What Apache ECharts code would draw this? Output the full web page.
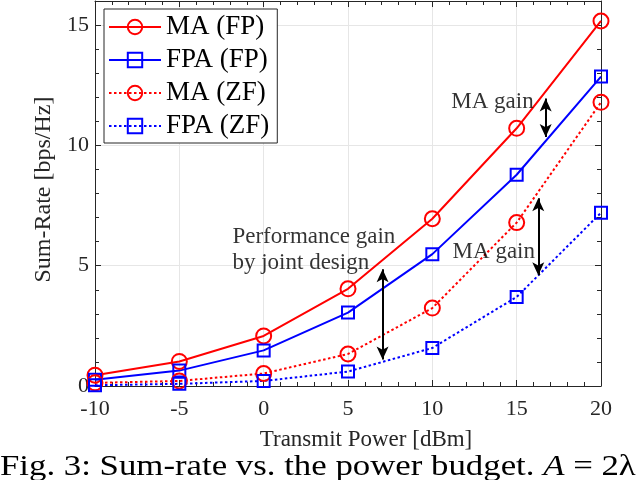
<!DOCTYPE html>
<html>
<head>
<meta charset="utf-8">
<script src="https://cdn.jsdelivr.net/npm/echarts@6/dist/echarts.min.js"></script>
<style>
  html, body { margin: 0; padding: 0; background: #fff; }
  #chart { width: 640px; height: 480px; }
</style>
</head>
<body>
<div id="chart"></div>
<script>
// transmit power [dBm]
const power = [-10, -5, 0, 5, 10, 15, 20];
// sum-rate [bps/Hz]
const maFP = [0.45, 1.02, 2.08, 4.04, 6.95, 10.71, 15.17];
const fpaFP = [0.26, 0.64, 1.48, 3.05, 5.48, 8.78, 12.86];
const maZF = [0.13, 0.21, 0.52, 1.33, 3.24, 6.79, 11.79];
const fpaZF = [0.03, 0.09, 0.21, 0.60, 1.58, 3.70, 7.20];
const yTicks = [0, 5, 10, 15];

// arrows: [x, yTop, yBottom]
const arrows = [
  [7.05, 4.85, 1.1],
  [16.72, 11.95, 10.35],
  [16.28, 7.8, 4.6]
];
// annotations: [x, y, text]
const notes = [
  [-1.85, 5.64, 'Performance gain\nby joint design'],
  [11.12, 11.8, 'MA gain'],
  [11.2, 5.57, 'MA gain']
];

const FONT = '"Liberation Serif", "Times New Roman", serif';
const RED = '#ff0000';
const BLUE = '#0000ff';
const AX = '#262626';

const chart = echarts.init(document.getElementById('chart'), null, {renderer: 'canvas'});

function lineSeries(name, data, color, symbol, size, dotted) {
  return {
    name: name,
    type: 'line',
    data: power.map((p, i) => [p, data[i]]),
    symbol: symbol,
    symbolSize: size,
    showAllSymbol: true,
    lineStyle: {color: color, width: 2, type: dotted ? [2.5, 2.5] : 'solid'},
    itemStyle: {color: 'rgba(255,255,255,0)', borderColor: color, borderWidth: 2},
    emphasis: {disabled: true},
    z: 3
  };
}

const tickCommon = {
  axisLine: {show: true, onZero: false, lineStyle: {color: AX, width: 1}},
  axisTick: {show: true, inside: true, length: 6, lineStyle: {color: AX}},
  minorTick: {show: true, splitNumber: 5, length: 4, lineStyle: {color: AX}},
};

const option = {
  backgroundColor: '#fff',
  animation: false,
  grid: {left: 95, right: 39, top: 1, bottom: 94},
  legend: {
    data: ['MA (FP)', 'FPA (FP)', 'MA (ZF)', 'FPA (ZF)'],
    orient: 'vertical',
    left: 104,
    top: 9,
    itemWidth: 52,
    itemHeight: 18,
    itemGap: 3,
    padding: [3, 8, 2, 4],
    borderColor: AX,
    borderWidth: 1,
    backgroundColor: '#fff',
    textStyle: {fontFamily: FONT, fontSize: 27, color: '#000', lineHeight: 30},
    z: 10
  },
  xAxis: [
    Object.assign({
      type: 'value', min: -10, max: 20, interval: 5,
      name: 'Transmit Power [dBm]', nameLocation: 'middle', nameGap: 42,
      nameTextStyle: {fontFamily: FONT, fontSize: 23, color: AX, padding: [0, 0, 0, 36]},
      axisLabel: {fontFamily: FONT, fontSize: 22, color: AX, margin: 12},
      splitLine: {show: true, lineStyle: {color: '#e6e6e6', width: 1}}
    }, tickCommon),
    Object.assign({
      type: 'value', min: -10, max: 20, interval: 5, position: 'top',
      axisLabel: {show: false}, splitLine: {show: false}
    }, tickCommon)
  ],
  yAxis: [
    Object.assign({
      type: 'value', min: 0, max: 16, interval: 5,
      name: 'Sum-Rate [bps/Hz]', nameLocation: 'middle', nameGap: 37,
      nameTextStyle: {fontFamily: FONT, fontSize: 24, color: AX, padding: [0, 0, 0, 8]},
      axisLabel: {
        fontFamily: FONT, fontSize: 22, color: AX, margin: 6,
        formatter: v => (yTicks.indexOf(v) >= 0 ? String(v) : '')
      },
      splitLine: {show: true, lineStyle: {color: '#e6e6e6', width: 1}}
    }, tickCommon),
    Object.assign({
      type: 'value', min: 0, max: 16, interval: 5, position: 'right',
      axisLabel: {show: false}, splitLine: {show: false}
    }, tickCommon)
  ],
  series: [
    lineSeries('MA (FP)', maFP, RED, 'circle', 15, false),
    lineSeries('FPA (FP)', fpaFP, BLUE, 'rect', 12, false),
    lineSeries('MA (ZF)', maZF, RED, 'circle', 15, true),
    lineSeries('FPA (ZF)', fpaZF, BLUE, 'rect', 12, true),
    {
      name: 'arrows',
      type: 'line',
      data: [],
      silent: true,
      markLine: {
        silent: true,
        symbol: ['arrow', 'arrow'],
        symbolSize: [9, 13],
        lineStyle: {color: '#000', width: 2, type: 'solid'},
        label: {show: false},
        emphasis: {disabled: true},
        data: arrows.map(a => [{coord: [a[0], a[1]]}, {coord: [a[0], a[2]]}])
      },
      z: 4
    },
    {
      name: 'notes',
      type: 'scatter',
      symbolSize: 0,
      silent: true,
      data: notes.map(n => ({value: [n[0], n[1]], note: n[2]})),
      label: {
        show: true,
        position: 'right',
        distance: 0,
        align: 'left',
        verticalAlign: 'middle',
        fontFamily: FONT,
        fontSize: 23,
        lineHeight: 26,
        color: '#000',
        formatter: p => p.data.note
      },
      z: 5
    }
  ],
  graphic: [{
    type: 'text',
    x: 0,
    y: 452,
    scaleX: 1.16,
    style: {
      text: 'Fig. 3: Sum-rate vs. the power budget. {i|A} = 2λ',
      rich: {i: {fontStyle: 'italic', fontFamily: FONT, fontSize: 30, fill: '#000'}},
      fontFamily: FONT,
      fontSize: 30,
      fill: '#000'
    }
  }]
};

chart.setOption(option);
</script>
</body>
</html>
